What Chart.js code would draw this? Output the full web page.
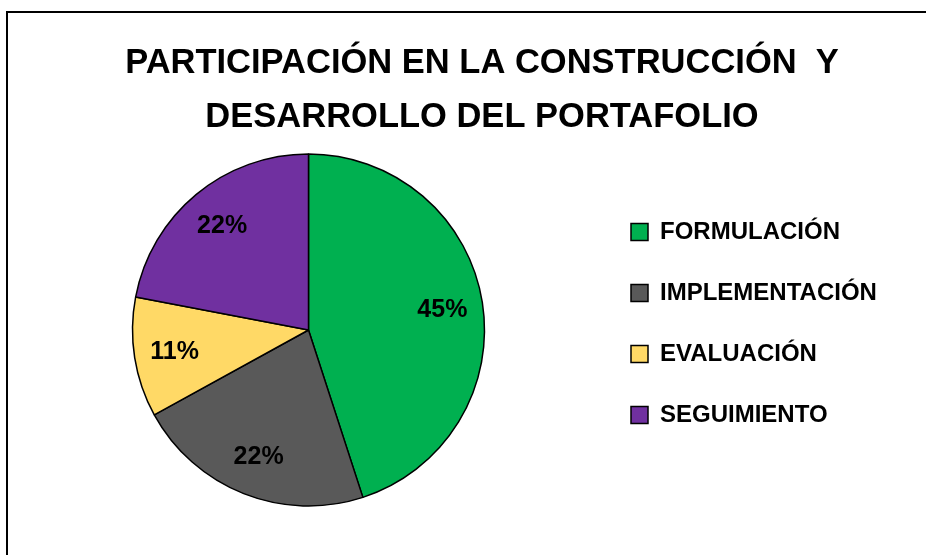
<!DOCTYPE html>
<html>
<head>
<meta charset="utf-8">
<script src="https://cdn.jsdelivr.net/npm/chart.js@4"></script>
<style>
  html, body { margin: 0; padding: 0; background: #fff; overflow: hidden; }
  #wrap { position: relative; width: 926px; height: 555px; }
  #frame { position: absolute; left: 6px; top: 11px; width: 1000px; height: 1000px;
           border-left: 2px solid #000; border-top: 2px solid #000; }
  #canvasA { position: absolute; left: 0; top: 0; }
</style>
</head>
<body>
<div id="wrap">
  <div id="frame"></div>
  <canvas id="canvasA" width="926" height="555"></canvas>
</div>
<script>
var titleLines = ['PARTICIPACIÓN EN LA CONSTRUCCIÓN  Y', 'DESARROLLO DEL PORTAFOLIO'];
var categories = ['FORMULACIÓN', 'IMPLEMENTACIÓN', 'EVALUACIÓN', 'SEGUIMIENTO'];
var percentages = [45, 22, 11, 22];
var sliceColors = ['#00B050', '#595959', '#FFD966', '#7030A0'];

var fontFamily = '"Liberation Sans", Arial, sans-serif';

// legend width depends on the longest label, work out the right padding from it
var measure = document.createElement('canvas').getContext('2d');
measure.font = 'bold 24px ' + fontFamily;
var textW = 0;
categories.forEach(function (c) { textW = Math.max(textW, measure.measureText(c).width); });
var legendW = 37 + 17 + 12 + textW + 10;
var padRight = 926 - 594 - legendW;

var titlePlugin = {
  id: 'twoLineTitle',
  afterDraw: function (chart) {
    var c = chart.ctx;
    c.save();
    c.font = 'bold 34.5px ' + fontFamily;
    c.fillStyle = '#000';
    c.textAlign = 'center';
    c.textBaseline = 'alphabetic';
    c.fillText(titleLines[0], 482, 73);
    c.fillText(titleLines[1], 482, 126.5);
    c.restore();
  }
};

var pctPlugin = {
  id: 'pctLabels',
  afterDatasetsDraw: function (chart) {
    var c = chart.ctx;
    var meta = chart.getDatasetMeta(0);
    var values = chart.data.datasets[0].data;
    var total = values.reduce(function (a, b) { return a + b; }, 0);
    c.save();
    c.font = 'bold 25px ' + fontFamily;
    c.fillStyle = '#000';
    c.textAlign = 'center';
    c.textBaseline = 'middle';
    meta.data.forEach(function (arc, i) {
      var p = arc.getProps(['x', 'y', 'startAngle', 'endAngle', 'outerRadius'], true);
      var mid = (p.startAngle + p.endAngle) / 2;
      var r = p.outerRadius * 0.77;
      c.fillText(Math.round(values[i] / total * 100) + '%', p.x + Math.cos(mid) * r, p.y + Math.sin(mid) * r + 1);
    });
    c.restore();
  }
};

var ctx = document.getElementById('canvasA').getContext('2d');
var pieChart = new Chart(ctx, {
  type: 'pie',
  data: {
    labels: categories,
    datasets: [{
      data: percentages,
      backgroundColor: sliceColors,
      borderColor: '#000',
      borderWidth: 1.5,
      radius: 176,
      hoverOffset: 0,
      clip: false
    }]
  },
  options: {
    responsive: false,
    animation: false,
    events: [],
    layout: {
      padding: { left: 23, top: 183, bottom: 78, right: padRight }
    },
    plugins: {
      title: { display: false },
      tooltip: { enabled: false },
      legend: {
        position: 'right',
        align: 'start',
        labels: {
          color: '#000',
          boxWidth: 17,
          boxHeight: 17,
          padding: 37,
          font: { family: fontFamily, weight: 'bold', size: 24 }
        }
      }
    }
  },
  plugins: [titlePlugin, pctPlugin]
});
</script>
</body>
</html>
